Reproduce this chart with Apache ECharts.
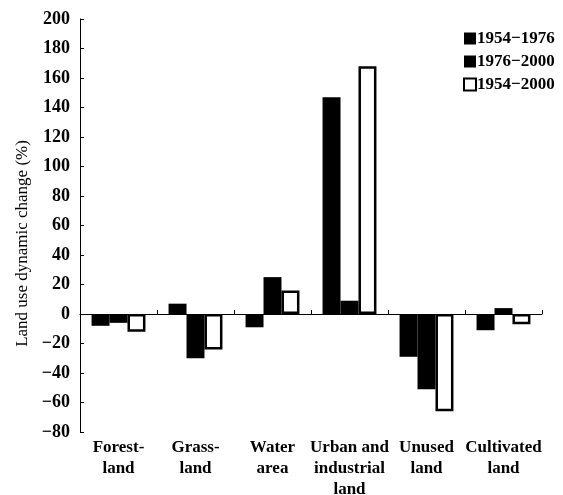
<!DOCTYPE html>
<html>
<head>
<meta charset="utf-8">
<script src="https://cdn.jsdelivr.net/npm/echarts@6/dist/echarts.min.js"></script>
<style>html,body{margin:0;padding:0;background:#fff}#c{width:563px;height:495px}</style>
</head>
<body>
<div id="c"></div>
<script>
const categories = ['Forest-\nland', 'Grass-\nland', 'Water\narea', 'Urban and\nindustrial\nland', 'Unused\nland', 'Cultivated\nland'];
const seriesNames = ['1954\u22121976', '1976\u22122000', '1954\u22122000'];
const s1954_1976 = [-8, 7, -9, 147, -29, -11];
const s1976_2000 = [-6, -30, 25, 9, -51, 4];
const s1954_2000 = [-12, -24, 16, 168, -66, -7];
const yTicks = { min: -80, max: 200, interval: 20 };

const font = "'Liberation Serif', 'Times New Roman', serif";
const chart = echarts.init(document.getElementById('c'));
chart.setOption({
  animation: false,
  backgroundColor: '#fff',
  textStyle: { fontFamily: font, color: '#000' },
  grid: { left: 80, right: 21, top: 19, bottom: 63, outerBoundsMode: 'none', containLabel: false },
  legend: {
    orient: 'vertical', left: 458, top: 25, itemWidth: 12, itemHeight: 12, itemGap: 6,
    icon: 'rect',
    textStyle: { fontFamily: font, fontSize: 17, fontWeight: 'bold', color: '#000', padding: [0, 0, 0, -4] },
    data: seriesNames
  },
  xAxis: [
    {
      type: 'category', data: categories, position: 'bottom',
      axisLine: { show: true, onZero: true, lineStyle: { color: '#000', width: 1 } },
      axisTick: { show: true, inside: true, length: 4, lineStyle: { color: '#000' } },
      axisLabel: { show: false }
    },
    {
      type: 'category', data: categories, position: 'bottom',
      axisLine: { show: false, onZero: false },
      axisTick: { show: false },
      axisLabel: { show: true, interval: 0, margin: 5, fontFamily: font, fontSize: 17, fontWeight: 'bold', color: '#000', lineHeight: 21 }
    }
  ],
  yAxis: {
    type: 'value', min: yTicks.min, max: yTicks.max, interval: yTicks.interval,
    name: 'Land use dynamic change (%)', nameLocation: 'middle', nameGap: 44,
    nameTextStyle: { fontFamily: font, fontSize: 17, color: '#000', padding: [0, 36, 0, 0] },
    axisLine: { show: true, onZero: false, lineStyle: { color: '#000', width: 1 } },
    axisTick: { show: true, inside: true, length: 4, lineStyle: { color: '#000' } },
    splitLine: { show: false },
    axisLabel: { margin: 10, fontFamily: font, fontSize: 18, fontWeight: 'bold', color: '#000',
      formatter: v => String(v).replace('-', '\u2212') }
  },
  series: [
    { name: seriesNames[0], type: 'bar', data: s1954_1976, barGap: '0%', barCategoryGap: '30%',
      itemStyle: { color: '#000' } },
    { name: seriesNames[1], type: 'bar', data: s1976_2000, barGap: '0%', barCategoryGap: '30%',
      itemStyle: { color: '#000' } },
    { name: seriesNames[2], type: 'bar', data: s1954_2000, barGap: '0%', barCategoryGap: '30%',
      itemStyle: { color: '#fff', borderColor: '#000', borderWidth: 2.5 } }
  ]
});
</script>
</body>
</html>
